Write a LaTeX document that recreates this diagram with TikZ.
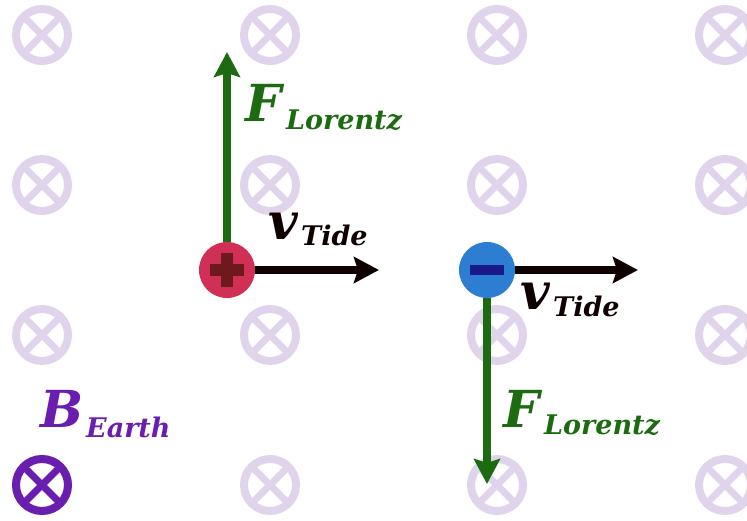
\documentclass[tikz,border=0pt]{standalone}
\usepackage{fontspec}
\setmainfont{DejaVu Serif}
\usetikzlibrary{arrows.meta}

\definecolor{forcegreen}{RGB}{29,107,16}
\definecolor{tideblack}{RGB}{15,0,0}
\definecolor{posred}{RGB}{208,48,86}
\definecolor{possign}{RGB}{110,25,30}
\definecolor{negblue}{RGB}{45,125,210}
\definecolor{negsign}{RGB}{25,25,140}
\definecolor{earthpurple}{RGB}{106,30,176}
\definecolor{fieldlight}{RGB}{224,212,236}

\begin{document}
\begin{tikzpicture}[x=1pt, y=-1pt,
  fieldmark/.style={line width=8pt},
  crossmark/.style={line width=7pt},
  charge/.style={circle, inner sep=0pt, minimum size=56pt},
  vecarrow/.style={line width=8pt, -{Stealth[length=25pt, width=26pt, inset=4pt]}},
  biglbl/.style={anchor=base west, inner sep=0pt, font=\fontsize{51}{51}\selectfont\bfseries\itshape},
  sublbl/.style={anchor=base west, inner sep=0pt, font=\fontsize{27}{27}\selectfont\bfseries\itshape}]
\useasboundingbox (0,0) rectangle (747,521);

% Field of the Earth, into the page
\foreach \x in {42,270,497,725}
  \foreach \y in {35,185,335,485} {
    \draw[fieldmark, fieldlight] (\x,\y) circle (26);
    \draw[crossmark, fieldlight] (\x,\y) +(-16,-16) -- +(16,16) +(-16,16) -- +(16,-16);
  }
\draw[fieldmark, earthpurple] (42,485) circle (26);
\draw[crossmark, earthpurple] (42,485) +(-16,-16) -- +(16,16) +(-16,16) -- +(16,-16);

% Charges
\node[charge, fill=posred] (pos) at (227,270) {};
\node[charge, fill=negblue] (neg) at (487,270) {};
\fill[possign] (pos.center) +(-17,-6) rectangle +(17,6);
\fill[possign] (pos.center) +(-6,-17) rectangle +(6,17);
\fill[negsign] (neg.center) +(-17,-5) rectangle +(17,5);

% Arrow ends
\coordinate (posup) at (227,52);
\coordinate (posright) at (379,270);
\coordinate (negright) at (638,270);
\coordinate (negdown) at (487,484);

% Arrows
\draw[vecarrow, forcegreen] (pos) -- (posup);
\draw[vecarrow, tideblack] (pos) -- (posright);
\draw[vecarrow, tideblack] (neg) -- (negright);
\draw[vecarrow, forcegreen] (neg) -- (negdown);

% Labels
\node[biglbl, forcegreen] (fup) at (245,122) {F};
\node[sublbl, forcegreen] (fupsub) at (286,130) {Lorentz};
\node[biglbl, tideblack] (vup) at (268,240) {v};
\node[sublbl, tideblack] (vupsub) at (301,246) {Tide};
\node[biglbl, tideblack] (vdown) at (520,310) {v};
\node[sublbl, tideblack] (vdownsub) at (553,317) {Tide};
\node[biglbl, forcegreen] (fdown) at (503,427) {F};
\node[sublbl, forcegreen] (fdownsub) at (544,434) {Lorentz};
\node[biglbl, earthpurple] (bearth) at (40,427) {B};
\node[sublbl, earthpurple] (bearthsub) at (86,437) {Earth};

\end{tikzpicture}
\end{document}
